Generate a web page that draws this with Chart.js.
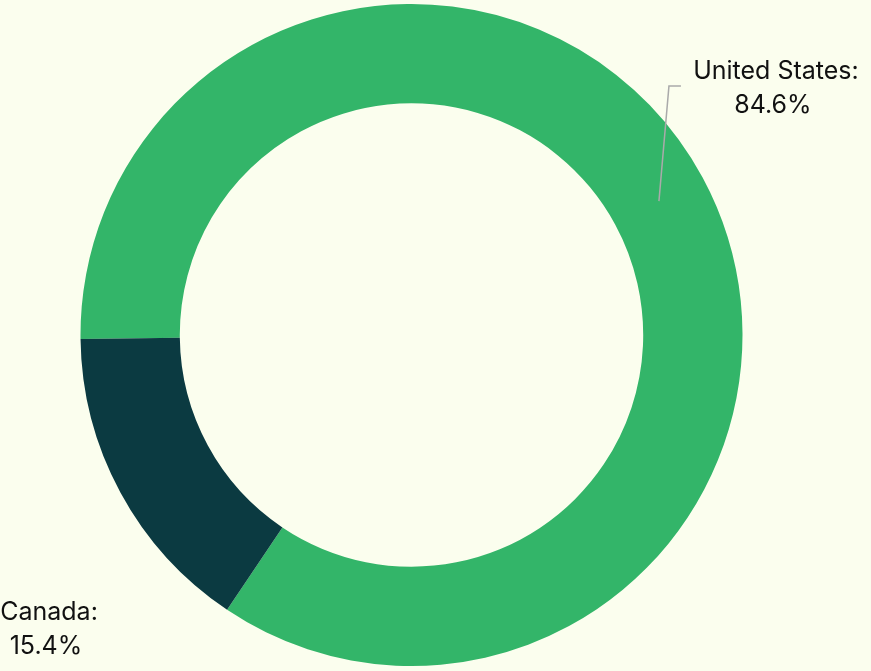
<!DOCTYPE html>
<html>
<head>
<meta charset="utf-8">
<script src="https://cdn.jsdelivr.net/npm/chart.js@4.4.1/dist/chart.umd.min.js"></script>
<style>
  html, body { margin: 0; padding: 0; background: #fbfeee; }
  #wrap { width: 871px; height: 671px; }
</style>
</head>
<body>
<div id="wrap"><canvas id="grafico"></canvas></div>
<script>
// datos
const paises = ['United States', 'Canada'];
const porcentajes = [84.6, 15.4];
const colores = ['#33b569', '#0b3a41'];

// etiquetas afuera de la dona (desplazamiento desde el centro de cada arco)
const etiquetasPlugin = {
  id: 'etiquetasAfuera',
  afterDraw(chart) {
    const ctx = chart.ctx;
    const meta = chart.getDatasetMeta(0);
    ctx.save();
    ctx.font = '25px Inter, sans-serif';
    ctx.fillStyle = '#111';
    ctx.textAlign = 'center';
    ctx.textBaseline = 'alphabetic';

    meta.data.forEach((arc, i) => {
      const p = arc.getCenterPoint();
      const texto1 = paises[i] + ':';
      const texto2 = porcentajes[i].toFixed(1) + '%';
      let tx, ty;
      if (i === 0) {
        // línea guía
        const esquinaX = p.x + 10;
        const esquinaY = p.y - 115;
        ctx.strokeStyle = '#aaaaaa';
        ctx.lineWidth = 1.5;
        ctx.beginPath();
        ctx.moveTo(p.x, p.y);
        ctx.lineTo(esquinaX, esquinaY);
        ctx.lineTo(esquinaX + 12, esquinaY);
        ctx.stroke();
        tx = esquinaX + 107;
        ty = esquinaY - 7;
      } else {
        tx = 49;
        ty = 620;
      }
      ctx.fillText(texto1, tx, ty);
      ctx.fillText(texto2, tx - 3, ty + 34);
    });
    ctx.restore();
  }
};

new Chart(document.getElementById('grafico'), {
  type: 'doughnut',
  data: {
    labels: paises,
    datasets: [{
      data: porcentajes,
      backgroundColor: colores,
      borderWidth: 0
    }]
  },
  options: {
    responsive: true,
    maintainAspectRatio: false,
    animation: false,
    cutout: '70%',
    rotation: 269.3,
    layout: { padding: { left: 0, right: 48, top: 4, bottom: 5 } },
    plugins: {
      legend: { display: false },
      tooltip: { enabled: false }
    }
  },
  plugins: [etiquetasPlugin]
});
</script>
</body>
</html>
